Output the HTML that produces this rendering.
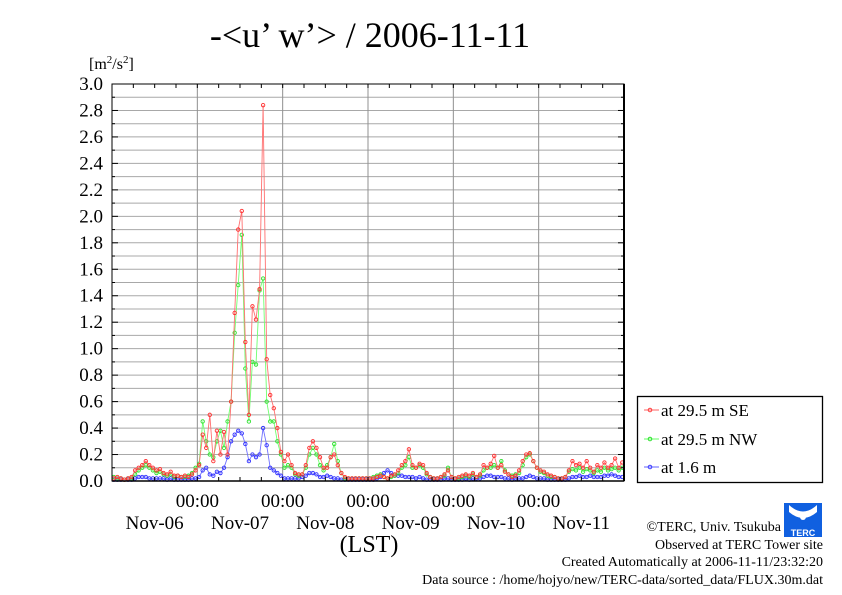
<!DOCTYPE html>
<html><head><meta charset="utf-8"><style>
html,body{margin:0;padding:0;background:#fff;}
svg{display:block;font-family:"Liberation Serif",serif;}
</style></head><body>
<svg id="chart" width="842" height="595" viewBox="0 0 842 595" xmlns="http://www.w3.org/2000/svg">
<text x="370" y="47" font-size="36" text-anchor="middle">-&lt;u’ w’&gt; / 2006-11-11</text>
<text x="89" y="69" font-size="16">[m<tspan font-size="11" dy="-6">2</tspan><tspan dy="6">/s</tspan><tspan font-size="11" dy="-6">2</tspan><tspan dy="6">]</tspan></text>
<g id="grid"></g>
<g id="series"></g>
<g id="axes"></g>
<text x="369" y="552" font-size="24" text-anchor="middle">(LST)</text>
<g>
<rect x="637.5" y="396.5" width="185" height="86" fill="#fff" stroke="#000" stroke-width="1.3"/>
<g><line x1="644" y1="410" x2="659" y2="410" stroke="#ff6060"/><circle cx="650" cy="410" r="1.8" fill="none" stroke="#ff4040"/><text x="661" y="416" font-size="17">at 29.5 m SE</text></g>
<g><line x1="644" y1="439" x2="659" y2="439" stroke="#60ff60"/><circle cx="650" cy="439" r="1.8" fill="none" stroke="#30e030"/><text x="661" y="445" font-size="17">at 29.5 m NW</text></g>
<g><line x1="644" y1="467" x2="659" y2="467" stroke="#6060ff"/><circle cx="650" cy="467" r="1.8" fill="none" stroke="#4040ff"/><text x="661" y="473" font-size="17">at 1.6 m</text></g>
</g>
<g>
<rect x="784" y="503" width="38" height="34" fill="#1060e0"/>
<path d="M789 505 Q803 518 817 505 L817 512 Q803 524 789 512 Z" fill="#fff"/>
<circle cx="803" cy="517" r="3" fill="#fff"/>
<text x="803" y="536" font-size="9" fill="#fff" text-anchor="middle" font-family="Liberation Sans,sans-serif" font-weight="bold">TERC</text>
</g>
<g font-size="14" text-anchor="end">
<text x="781" y="531">©TERC, Univ. Tsukuba</text>
<text x="823" y="549">Observed at TERC Tower site</text>
<text x="823" y="566">Created Automatically at 2006-11-11/23:32:20</text>
<text x="823" y="584">Data source : /home/hojyo/new/TERC-data/sorted_data/FLUX.30m.dat</text>
</g>
</svg>
<script>
const dayLabels=["Nov-06","Nov-07","Nov-08","Nov-09","Nov-10","Nov-11"];
const yTicks=[0.0,0.2,0.4,0.6,0.8,1.0,1.2,1.4,1.6,1.8,2.0,2.2,2.4,2.6,2.8,3.0];
const seriesSE=[0.02,0.03,0.02,0.01,0.02,0.03,0.08,0.1,0.12,0.15,0.12,0.1,0.08,0.09,0.06,0.05,0.07,0.04,0.04,0.03,0.04,0.03,0.05,0.08,
0.12,0.35,0.25,0.5,0.15,0.38,0.2,0.37,0.2,0.6,1.27,1.9,2.04,1.05,0.5,1.32,1.22,1.45,2.84,0.92,0.65,0.55,0.4,0.22,
0.15,0.2,0.12,0.06,0.05,0.05,0.12,0.25,0.3,0.25,0.18,0.1,0.1,0.18,0.2,0.12,0.06,0.03,0.02,0.02,0.02,0.02,0.02,0.02,
0.02,0.02,0.03,0.04,0.03,0.02,0.04,0.05,0.08,0.12,0.15,0.24,0.12,0.1,0.13,0.12,0.06,0.03,0.02,0.02,0.03,0.05,0.08,0.03,
0.02,0.03,0.04,0.05,0.04,0.06,0.03,0.05,0.12,0.1,0.13,0.19,0.1,0.12,0.07,0.05,0.03,0.04,0.08,0.15,0.2,0.21,0.15,0.1,
0.08,0.07,0.05,0.04,0.03,0.02,0.02,0.03,0.08,0.15,0.12,0.13,0.1,0.15,0.1,0.07,0.12,0.1,0.14,0.1,0.12,0.17,0.1,0.14];
const seriesNW=[0.03,0.02,0.02,0.01,0.02,0.02,0.05,0.08,0.1,0.12,0.1,0.08,0.06,0.07,0.05,0.04,0.05,0.03,0.04,0.03,0.03,0.04,0.06,0.1,
0.13,0.45,0.3,0.2,0.18,0.3,0.38,0.25,0.45,0.6,1.12,1.48,1.86,0.85,0.45,0.9,0.88,1.44,1.53,0.6,0.45,0.45,0.3,0.2,
0.1,0.12,0.1,0.05,0.04,0.05,0.1,0.2,0.25,0.2,0.12,0.08,0.12,0.18,0.28,0.15,0.06,0.02,0.02,0.02,0.02,0.02,0.02,0.02,
0.02,0.03,0.04,0.05,0.03,0.02,0.03,0.04,0.06,0.1,0.12,0.18,0.1,0.1,0.12,0.1,0.05,0.03,0.02,0.02,0.03,0.04,0.1,0.03,
0.02,0.02,0.03,0.04,0.03,0.05,0.03,0.04,0.08,0.1,0.1,0.12,0.1,0.15,0.08,0.05,0.04,0.05,0.06,0.12,0.18,0.2,0.15,0.1,
0.07,0.06,0.04,0.03,0.03,0.02,0.02,0.03,0.07,0.09,0.08,0.1,0.07,0.09,0.08,0.06,0.08,0.07,0.1,0.08,0.09,0.1,0.08,0.1];
const series16=[0.01,0.01,0.01,0.01,0.01,0.01,0.02,0.03,0.03,0.03,0.02,0.02,0.02,0.02,0.02,0.01,0.02,0.01,0.01,0.01,0.01,0.01,0.02,0.02,
0.03,0.08,0.1,0.05,0.04,0.07,0.06,0.1,0.18,0.3,0.35,0.38,0.36,0.28,0.15,0.2,0.18,0.2,0.4,0.27,0.1,0.08,0.06,0.04,
0.02,0.02,0.02,0.02,0.02,0.03,0.04,0.06,0.06,0.05,0.03,0.03,0.04,0.03,0.02,0.02,0.01,0.01,0.01,0.01,0.01,0.01,0.01,0.01,
0.01,0.01,0.02,0.03,0.06,0.08,0.06,0.04,0.04,0.04,0.03,0.03,0.03,0.02,0.03,0.02,0.01,0.01,0.01,0.01,0.01,0.02,0.02,0.01,
0.01,0.01,0.01,0.02,0.01,0.02,0.02,0.02,0.03,0.04,0.04,0.03,0.03,0.03,0.02,0.02,0.01,0.02,0.02,0.02,0.03,0.04,0.03,0.02,
0.02,0.02,0.01,0.01,0.01,0.01,0.01,0.01,0.02,0.03,0.03,0.04,0.03,0.03,0.04,0.03,0.03,0.03,0.04,0.04,0.05,0.04,0.03,0.03];

const NS="http://www.w3.org/2000/svg";
const X0=112,X1=624,Y0=481,Y1=84,HOURS=144;
function xScale(h){return X0+(X1-X0)*h/HOURS;}
function yScale(v){return Y0-(Y0-Y1)*v/3.0;}
function mk(tag,attrs,parent){const e=document.createElementNS(NS,tag);for(const k in attrs)e.setAttribute(k,attrs[k]);parent.appendChild(e);return e;}
const grid=document.getElementById('grid'),axes=document.getElementById('axes'),ser=document.getElementById('series');
for(let i=1;i<30;i++){const y=yScale(i*0.1);
 const l=mk('line',{x1:X0,x2:X1,y1:y,y2:y,stroke:'#a8a8a8','stroke-width':1},grid);
 
 }
for(let d=1;d<6;d++){const x=xScale(d*24);
 const l=mk('line',{x1:x,x2:x,y1:Y1,y2:Y0,stroke:'#909090','stroke-width':1},grid);
 
 }
for(let h=6;h<HOURS;h+=6){const x=xScale(h);
 mk('line',{x1:x,x2:x,y1:Y0,y2:Y0-4,stroke:'#000'},axes);
 mk('line',{x1:x,x2:x,y1:Y1,y2:Y1+4,stroke:'#000'},axes);}
for(let i=0;i<=30;i++){const y=yScale(i*0.1);
 mk('line',{x1:X0,x2:X0+(i%2?3:6),y1:y,y2:y,stroke:'#000'},axes);
 mk('line',{x1:X1,x2:X1-(i%2?3:6),y1:y,y2:y,stroke:'#000'},axes);}
const fr=mk('rect',{x:X0,y:Y1,width:X1-X0,height:Y0-Y1,fill:'none',stroke:'#000','stroke-width':1},axes);


mk('line',{x1:X1,x2:X1,y1:Y1,y2:Y0,stroke:'#000','stroke-width':2},axes);
mk('line',{x1:X0,x2:X1,y1:Y0,y2:Y0,stroke:'#000','stroke-width':1.5},axes);
yTicks.forEach(v=>{const t=mk('text',{x:103,y:yScale(v)+6,'font-size':19,'text-anchor':'end'},axes);t.textContent=v.toFixed(1);
 
 });
for(let d=1;d<6;d++){const t=mk('text',{x:xScale(d*24),y:507,'font-size':19,'text-anchor':'middle'},axes);t.textContent="00:00";
 
 }
dayLabels.forEach((s,d)=>{const t=mk('text',{x:xScale(d*24+12),y:529,'font-size':19,'text-anchor':'middle'},axes);t.textContent=s;
 
 });
function drawSeries(arr,line,mark,name){
 const g=mk('g',{},ser);
 
 
 const pts=arr.map((v,i)=>xScale(i+0.5).toFixed(1)+','+yScale(v).toFixed(1)).join(' ');
 mk('polyline',{points:pts,fill:'none',stroke:line,'stroke-width':0.9},g);
 arr.forEach((v,i)=>{const c=mk('circle',{cx:xScale(i+0.5),cy:yScale(v),r:1.7,fill:'none',stroke:mark,'stroke-width':0.9},g);
  
  });
}
drawSeries(series16,'#7070ff','#3030ff','series-1-6m');
drawSeries(seriesNW,'#70ff70','#30e030','series-29-5m-nw');
drawSeries(seriesSE,'#ff7070','#ff3030','series-29-5m-se');
</script>
</body></html>
